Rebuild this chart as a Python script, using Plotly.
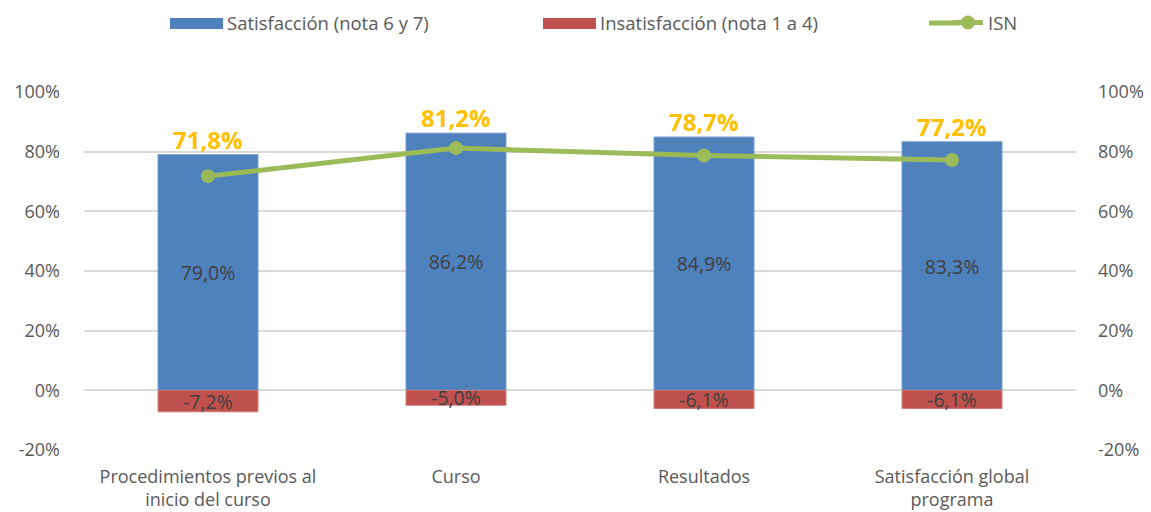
import plotly.graph_objects as go

categories = ["Procedimientos previos al<br>inicio del curso", "Curso", "Resultados", "Satisfacción global<br>programa"]
satisfaccion = [79.0, 86.2, 84.9, 83.3]
insatisfaccion = [-7.2, -5.0, -6.1, -6.1]
isn = [71.8, 81.2, 78.7, 77.2]
tick_vals = [-20, 0, 20, 40, 60, 80, 100]
tick_text = [f"{v}%" for v in tick_vals]

FONT = "Open Sans, Liberation Sans, sans-serif"
TXT = "#595959"
BLUE = "#4F81BD"
RED = "#C0504D"
GREEN = "#9BBB59"

W, H = 1151, 512
ML, MR, MT, MB = 84, 75, 92, 62
PW, PH = W - ML - MR, H - MT - MB

def pct(v):
    return f"{v:.1f}%".replace(".", ",")

def px_x(p):
    return (p - ML) / PW

def px_y(p):
    return (H - MB - p) / PH

fig = go.Figure()
fig.add_trace(go.Bar(
    x=categories, y=satisfaccion, name="Satisfacción (nota 6 y 7)",
    marker=dict(color=BLUE, line=dict(color="#6F9AD0", width=1)),
    text=[pct(v) for v in satisfaccion],
    textposition="inside", insidetextanchor="middle", constraintext="none",
    textfont=dict(size=19.5, color="#404040", family=FONT),
    width=0.403, showlegend=False,
))
fig.add_trace(go.Bar(
    x=categories, y=insatisfaccion, name="Insatisfacción (nota 1 a 4)",
    marker=dict(color=RED, line=dict(color="#D07A78", width=1)),
    text=[pct(v) for v in insatisfaccion],
    textposition="inside", insidetextanchor="middle", constraintext="none",
    textfont=dict(size=19.5, color="#404040", family=FONT),
    width=0.403, showlegend=False,
))
fig.add_trace(go.Scatter(
    x=categories, y=isn, name="ISN", mode="lines+markers",
    line=dict(color=GREEN, width=5),
    marker=dict(color=GREEN, size=14),
    legend="legend3",
))
# legend proxies (wide swatches like the original)
fig.add_trace(go.Scatter(x=[None], y=[None], name="Satisfacción (nota 6 y 7)", mode="lines",
                         line=dict(color=BLUE, width=8), legend="legend"))
fig.add_trace(go.Scatter(x=[None], y=[None], name="Insatisfacción (nota 1 a 4)", mode="lines",
                         line=dict(color=RED, width=8), legend="legend2"))
# invisible trace to show right axis
fig.add_trace(go.Scatter(x=categories, y=isn, yaxis="y2", mode="lines",
                         line=dict(width=0), showlegend=False, hoverinfo="skip"))

for c, s, v in zip(categories, satisfaccion, isn):
    fig.add_annotation(x=c, y=s, text=f"<b>{pct(v)}</b>",
                       showarrow=False, yanchor="bottom", yshift=-3,
                       font=dict(size=24, color="#FFC000", family=FONT))

# widen legend swatches to match the original's long keys
LEG_Y = 23
SW_Y = 23.5
fig.add_shape(type="rect", xref="paper", yref="paper", x0=px_x(170), x1=px_x(223),
              y0=px_y(SW_Y + 5.5), y1=px_y(SW_Y - 5.5), fillcolor=BLUE, line=dict(width=0))
fig.add_shape(type="rect", xref="paper", yref="paper", x0=px_x(543), x1=px_x(596),
              y0=px_y(SW_Y + 5.5), y1=px_y(SW_Y - 5.5), fillcolor=RED, line=dict(width=0))
fig.add_shape(type="line", xref="paper", yref="paper", x0=px_x(929), x1=px_x(960),
              y0=px_y(LEG_Y), y1=px_y(LEG_Y), line=dict(color=GREEN, width=5))

axis_common = dict(range=[-20, 100], tickmode="array", tickvals=tick_vals, ticktext=tick_text,
                   tickfont=dict(size=18, color=TXT, family=FONT))
leg_common = dict(orientation="h", yref="container", xref="container", y=1 - LEG_Y / H,
                  yanchor="middle", xanchor="left",
                  font=dict(size=18.5, color=TXT, family=FONT),
                  bgcolor="rgba(0,0,0,0)")
fig.update_layout(
    width=W, height=H,
    margin=dict(l=ML, r=MR, t=MT, b=MB, autoexpand=False),
    paper_bgcolor="white", plot_bgcolor="white",
    barmode="relative",
    font=dict(family=FONT, color=TXT),
    xaxis=dict(tickfont=dict(size=18, color=TXT, family=FONT), showgrid=False,
               showline=False, ticks="", automargin=False, ticklabelstandoff=14),
    yaxis=dict(**axis_common, showgrid=True, gridcolor="#D9D9D9", gridwidth=1.5,
               zeroline=True, zerolinecolor="#D9D9D9", zerolinewidth=1.5,
               ticks="", ticklabelstandoff=23, automargin=False),
    yaxis2=dict(**axis_common, overlaying="y", side="right", showgrid=False,
                zeroline=False, ticks="", ticklabelstandoff=21, automargin=False),
    legend=dict(**leg_common, x=(227 - 40) / W),
    legend2=dict(**leg_common, x=(600 - 40) / W),
    legend3=dict(**leg_common, x=(988 - 40) / W),
    showlegend=True,
)

fig.write_html("out.html", config={"displayModeBar": False},
               post_script="document.body.style.margin='0';")
